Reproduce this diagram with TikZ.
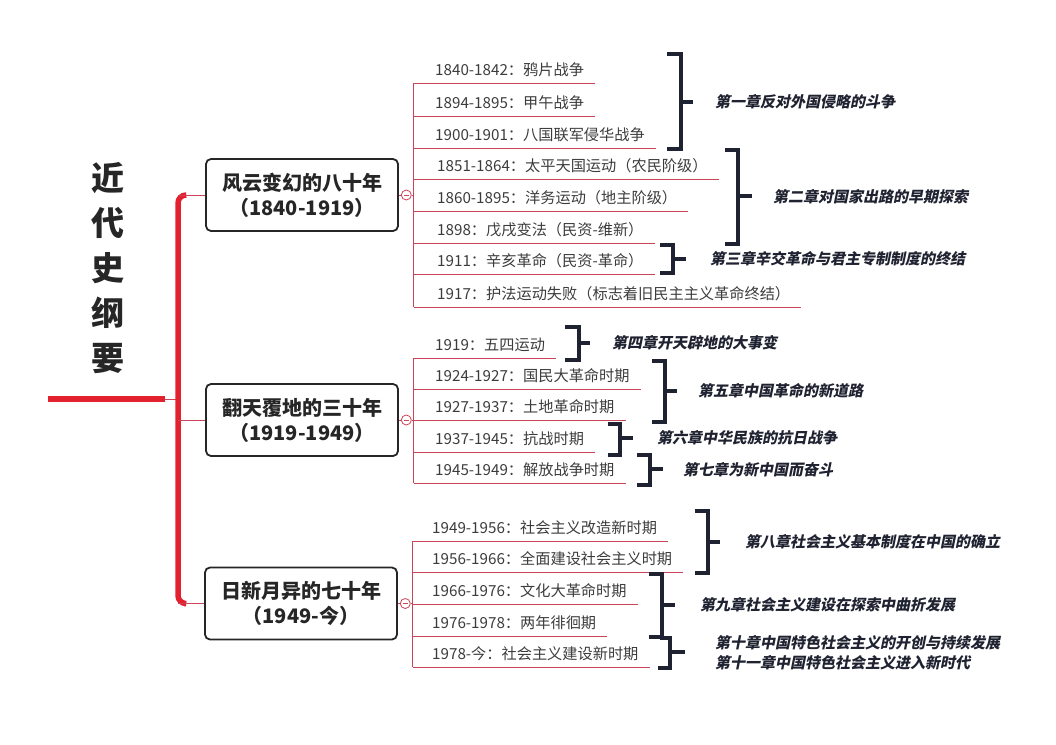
\documentclass[tikz,border=0pt]{standalone}
\usepackage{fontspec}
\setmainfont{Noto Sans CJK SC}
\newfontfamily\chapfont[FakeSlant=0.2]{Noto Sans CJK SC}
\usepackage{tikz}
\usetikzlibrary{positioning,calc}
\definecolor{spine}{HTML}{E3202E}
\definecolor{twig}{HTML}{CC4459}
\definecolor{ink}{HTML}{262626}
\definecolor{brace}{HTML}{1F2230}

\begin{document}
\begin{tikzpicture}[
  x=1pt, y=-1pt,
  font=\fontsize{15.2}{18}\selectfont,
  titletext/.style={align=center, inner sep=0pt, font=\fontsize{33}{45}\selectfont\bfseries, text=ink},
  era/.style={draw=ink, line width=1.8pt, rounded corners=5pt, fill=white, minimum width=192pt, minimum height=72pt, align=center, inner sep=0pt, font=\fontsize{20}{25}\selectfont\bfseries, text=ink},
  event/.style={anchor=south west, inner sep=0pt, minimum height=26pt, text=ink!90},
  chapter/.style={anchor=west, inner sep=0pt, align=left, font=\fontsize{15}{20}\selectfont\chapfont\bfseries, text=brace},
  rootline/.style={draw=spine, line width=6pt},
  trunk/.style={draw=spine, line width=5.5pt},
  twigline/.style={draw=twig, line width=1pt},
  knob/.style={circle, draw=twig, line width=0.8pt, fill=white, minimum size=10pt, inner sep=0pt},
  bracket/.style={draw=brace, line width=4pt}
]
  \useasboundingbox (0,0) rectangle (1056,744);

  % title and root
  \node[titletext] (title) at (108,268) {近\\代\\史\\纲\\要};
  \coordinate (rootL) at (48,399);
  \coordinate (rootR) at (165,399);
  \coordinate (hub) at (178,399);

  % three eras
  \node[era] (era1) at (302,195) {风云变幻的八十年\\（1840-1919）};
  \node[era] (era2) at (302,420) {翻天覆地的三十年\\（1919-1949）};
  \node[era] (era3) at (301,603.5) {日新月异的七十年\\（1949-今）};

  \draw[rootline] (rootL) -- (rootR);
  \draw[twigline] (rootR) -- (hub);
  \draw[trunk, rounded corners=8pt] ([xshift=-20pt]era1.west) -| (hub) |- ([xshift=-20pt]era3.west);
  \draw[twigline] (hub |- era1.west) -- (era1.west);
  \draw[twigline] (hub |- era2.west) -- (era2.west);
  \draw[twigline] (hub |- era3.west) -- (era3.west);

  \node[knob, right=2pt of era1] (knob1) {};
  \node[knob, right=2pt of era2] (knob2) {};
  \node[knob, right=2pt of era3] (knob3) {};
  \coordinate[right=2pt of knob1] (fork1);
  \coordinate[right=2pt of knob2] (fork2);
  \coordinate[right=2pt of knob3] (fork3);
  \draw[twigline] (era1) -- (knob1) -- (fork1);
  \draw[twigline] (era2) -- (knob2) -- (fork2);
  \draw[twigline] (era3) -- (knob3) -- (fork3);
  \draw[twig, line width=0.7pt] ([xshift=-2.5pt]knob1.center) -- ([xshift=2.5pt]knob1.center);
  \draw[twig, line width=0.7pt] ([xshift=-2.5pt]knob2.center) -- ([xshift=2.5pt]knob2.center);
  \draw[twig, line width=0.7pt] ([xshift=-2.5pt]knob3.center) -- ([xshift=2.5pt]knob3.center);

  % events of the first era
  \node[event] (e11) at (435,83) {1840-1842：鸦片战争};
  \node[event] (e12) at (435,116) {1894-1895：甲午战争};
  \node[event] (e13) at (435,148) {1900-1901：八国联军侵华战争};
  \node[event] (e14) at (437,179) {1851-1864：太平天国运动（农民阶级）};
  \node[event] (e15) at (437,211) {1860-1895：洋务运动（地主阶级）};
  \node[event] (e16) at (437,243) {1898：戊戌变法（民资-维新）};
  \node[event] (e17) at (437,274) {1911：辛亥革命（民资-革命）};
  \node[event] (e18) at (437,307) {1917：护法运动失败（标志着旧民主主义革命终结）};
  \draw[twigline] (fork1 |- e11.south) -- (fork1 |- e18.south);
  \draw[twigline] (fork1 |- e11.south) -- ([xshift=11pt]e11.south east);
  \draw[twigline] (fork1 |- e12.south) -- ([xshift=11pt]e12.south east);
  \draw[twigline] (fork1 |- e13.south) -- ([xshift=11pt]e13.south east);
  \draw[twigline] (fork1 |- e14.south) -- ([xshift=11pt]e14.south east);
  \draw[twigline] (fork1 |- e15.south) -- ([xshift=11pt]e15.south east);
  \draw[twigline] (fork1 |- e16.south) -- ([xshift=11pt]e16.south east);
  \draw[twigline] (fork1 |- e17.south) -- ([xshift=11pt]e17.south east);
  \draw[twigline] (fork1 |- e18.south) -- ([xshift=11pt]e18.south east);

  % events of the second era
  \node[event] (e21) at (435,358) {1919：五四运动};
  \node[event] (e22) at (435,389) {1924-1927：国民大革命时期};
  \node[event] (e23) at (435,420) {1927-1937：土地革命时期};
  \node[event] (e24) at (435,452) {1937-1945：抗战时期};
  \node[event] (e25) at (435,483) {1945-1949：解放战争时期};
  \draw[twigline] (fork2 |- e21.south) -- (fork2 |- e25.south);
  \draw[twigline] (fork2 |- e21.south) -- ([xshift=11pt]e21.south east);
  \draw[twigline] (fork2 |- e22.south) -- ([xshift=11pt]e22.south east);
  \draw[twigline] (fork2 |- e23.south) -- ([xshift=11pt]e23.south east);
  \draw[twigline] (fork2 |- e24.south) -- ([xshift=11pt]e24.south east);
  \draw[twigline] (fork2 |- e25.south) -- ([xshift=11pt]e25.south east);

  % events of the third era
  \node[event] (e31) at (432,541) {1949-1956：社会主义改造新时期};
  \node[event] (e32) at (432,572) {1956-1966：全面建设社会主义时期};
  \node[event] (e33) at (432,604) {1966-1976：文化大革命时期};
  \node[event] (e34) at (432,636) {1976-1978：两年徘徊期};
  \node[event] (e35) at (432,667) {1978-今：社会主义建设新时期};
  \draw[twigline] (fork3 |- e31.south) -- (fork3 |- e35.south);
  \draw[twigline] (fork3 |- e31.south) -- ([xshift=11pt]e31.south east);
  \draw[twigline] (fork3 |- e32.south) -- ([xshift=11pt]e32.south east);
  \draw[twigline] (fork3 |- e33.south) -- ([xshift=11pt]e33.south east);
  \draw[twigline] (fork3 |- e34.south) -- ([xshift=11pt]e34.south east);
  \draw[twigline] (fork3 |- e35.south) -- ([xshift=11pt]e35.south east);

  % brackets and chapters
  \draw[bracket] (667,54) -| (681,149) -- (667,149);
  \draw[bracket] (681,102) -- (693,102);
  \node[chapter] (ch1) at (715,102) {第一章反对外国侵略的斗争};

  \draw[bracket] (725,150) -| (738,244) -- (725,244);
  \draw[bracket] (738,196) -- (752,196);
  \node[chapter] (ch2) at (773,197) {第二章对国家出路的早期探索};

  \draw[bracket] (660,245) -| (673,273) -- (660,273);
  \draw[bracket] (673,259) -- (686,259);
  \node[chapter] (ch3) at (710,259) {第三章辛交革命与君主专制制度的终结};

  \draw[bracket] (565,327) -| (579,360) -- (565,360);
  \draw[bracket] (579,343) -- (590,343);
  \node[chapter] (ch4) at (612,343) {第四章开天辟地的大事变};

  \draw[bracket] (652,361) -| (665,422) -- (652,422);
  \draw[bracket] (665,391) -- (677,391);
  \node[chapter] (ch5) at (698,391) {第五章中国革命的新道路};

  \draw[bracket] (608,424) -| (620,455) -- (608,455);
  \draw[bracket] (620,438) -- (633,438);
  \node[chapter] (ch6) at (657,438) {第六章中华民族的抗日战争};

  \draw[bracket] (637,455) -| (650,485) -- (637,485);
  \draw[bracket] (650,469) -- (663,469);
  \node[chapter] (ch7) at (683,470) {第七章为新中国而奋斗};

  \draw[bracket] (695,511) -| (708,573) -- (695,573);
  \draw[bracket] (708,542) -- (720,542);
  \node[chapter] (ch8) at (745,542) {第八章社会主义基本制度在中国的确立};

  \draw[bracket] (649,574) -| (662,637) -- (649,637);
  \draw[bracket] (662,605) -- (675,605);
  \node[chapter] (ch9) at (700,605) {第九章社会主义建设在探索中曲折发展};

  \draw[bracket] (660,638) -| (670,668) -- (658,668);
  \draw[bracket] (670,652) -- (685,652);
  \node[chapter] (ch10) at (715,653) {第十章中国特色社会主义的开创与持续发展\\第十一章中国特色社会主义进入新时代};
\end{tikzpicture}
\end{document}
